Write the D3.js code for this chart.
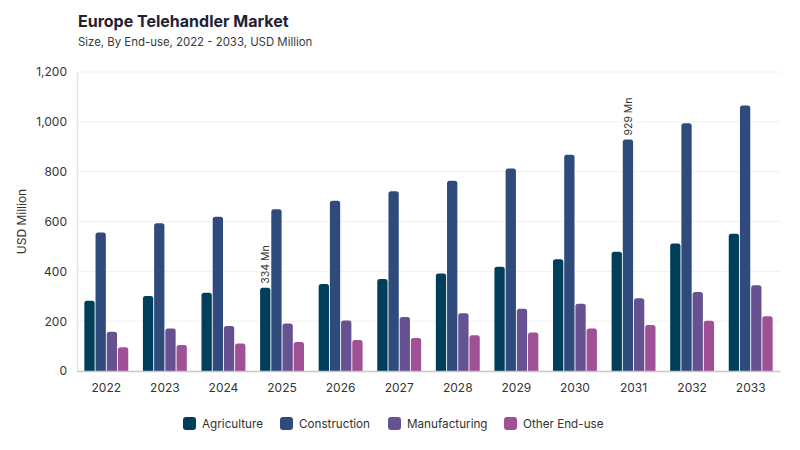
<!DOCTYPE html>
<html>
<head>
<meta charset="utf-8">
<script src="https://cdn.jsdelivr.net/npm/d3@7"></script>
<style>
  body { margin: 0; background: #fff; }
  svg text { font-family: Inter, "Noto Sans", sans-serif; }
</style>
</head>
<body>
<svg id="chart" width="800" height="450"></svg>
<script>
// chart data
var years = ["2022", "2023", "2024", "2025", "2026", "2027", "2028", "2029", "2030", "2031", "2032", "2033"];
var seriesNames = ["Agriculture", "Construction", "Manufacturing", "Other End-use"];
var agriculture = [282, 301, 314, 334, 349, 369, 391, 418, 448, 479, 512, 551];
var construction = [556, 593, 619, 649, 683, 721, 764, 813, 868, 929, 994, 1066];
var manufacturing = [158, 171, 181, 191, 203, 217, 232, 250, 270, 292, 317, 344];
var otherEndUse = [95, 104, 110, 116, 124, 132, 143, 155, 171, 185, 202, 220];
var yTicks = [0, 200, 400, 600, 800, 1000, 1200];
// value labels shown on the chart: [series index, year]
var valueLabels = [[0, "2025"], [1, "2031"]];

var colors = ["#003f5c", "#2f4b7c", "#665191", "#a05195"];
var allSeries = [agriculture, construction, manufacturing, otherEndUse];

var svg = d3.select("#chart");
var margin = { top: 72, right: 20, bottom: 79, left: 77 };
var width = 800 - margin.left - margin.right;
var height = 450 - margin.top - margin.bottom;

svg.append("text")
  .attr("x", 78).attr("y", 27)
  .attr("font-size", 16).attr("font-weight", 700).attr("fill", "#1f2233")
  .text("Europe Telehandler Market");
svg.append("text")
  .attr("x", 78).attr("y", 46)
  .attr("font-size", 11.4).attr("fill", "#3a3a3a")
  .text("Size, By End-use, 2022 - 2033, USD Million");

var g = svg.append("g").attr("transform", "translate(" + margin.left + "," + margin.top + ")");

var x0 = d3.scaleBand().domain(years).range([0, width]).paddingInner(0.22).paddingOuter(0.11);
var x1 = d3.scaleBand().domain(d3.range(seriesNames.length)).range([0, x0.bandwidth()]).padding(0.08);
var y = d3.scaleLinear().domain([0, 1200]).range([height, 0]);

// grid
g.selectAll(".grid").data(yTicks.slice(1)).enter().append("line")
  .attr("x1", 0).attr("x2", width)
  .attr("y1", function(d) { return y(d); }).attr("y2", function(d) { return y(d); })
  .attr("stroke", "#f0f0f0").attr("stroke-width", 1);

// y axis
var yAxis = g.append("g").call(d3.axisLeft(y).tickValues(yTicks).tickSize(0).tickPadding(10).tickFormat(d3.format(",")));
yAxis.select(".domain").attr("stroke", "#e2e2e2").attr("stroke-width", 1.5);
yAxis.selectAll("text").attr("font-size", 12).attr("fill", "#333");

svg.append("text")
  .attr("transform", "translate(26," + (margin.top + height / 2) + ") rotate(-90)")
  .attr("text-anchor", "middle").attr("font-size", 12).attr("fill", "#333")
  .text("USD Million");

// bars
var groups = g.selectAll(".year").data(years).enter().append("g")
  .attr("transform", function(d) { return "translate(" + x0(d) + ",0)"; });

groups.selectAll("path").data(function(d, i) {
    return allSeries.map(function(s, k) { return { k: k, v: s[i] }; });
  }).enter().append("path")
  .attr("fill", function(d) { return colors[d.k]; })
  .attr("d", function(d) {
    var bx = x1(d.k), bw = x1.bandwidth(), by = y(d.v), r = 2.5;
    return "M" + bx + "," + height + "V" + (by + r) + "Q" + bx + "," + by + " " + (bx + r) + "," + by +
      "H" + (bx + bw - r) + "Q" + (bx + bw) + "," + by + " " + (bx + bw) + "," + (by + r) + "V" + height + "Z";
  });

// x axis
var xAxis = g.append("g").attr("transform", "translate(0," + height + ")")
  .call(d3.axisBottom(x0).tickSize(0).tickPadding(12));
xAxis.select(".domain").attr("stroke", "#c8c8c8").attr("stroke-width", 1.5);
xAxis.selectAll("text").attr("font-size", 12).attr("fill", "#333");

// value labels
valueLabels.forEach(function(l) {
  var i = years.indexOf(l[1]);
  var v = allSeries[l[0]][i];
  var cx = x0(l[1]) + x1(l[0]) + x1.bandwidth() / 2;
  g.append("text")
    .attr("transform", "translate(" + (cx + 4) + "," + (y(v) - 4) + ") rotate(-90)")
    .attr("font-size", 10.5).attr("fill", "#333")
    .text(v + " Mn");
});

// legend
var legendX = [183, 280, 388, 504];
var legend = svg.selectAll(".legend").data(seriesNames).enter().append("g")
  .attr("transform", function(d, i) { return "translate(" + legendX[i] + ",417)"; });
legend.append("rect").attr("width", 13).attr("height", 13).attr("rx", 3)
  .attr("fill", function(d, i) { return colors[i]; });
legend.append("text").attr("x", 19).attr("y", 11)
  .attr("font-size", 11.7).attr("fill", "#333")
  .text(function(d) { return d; });
</script>
</body>
</html>
